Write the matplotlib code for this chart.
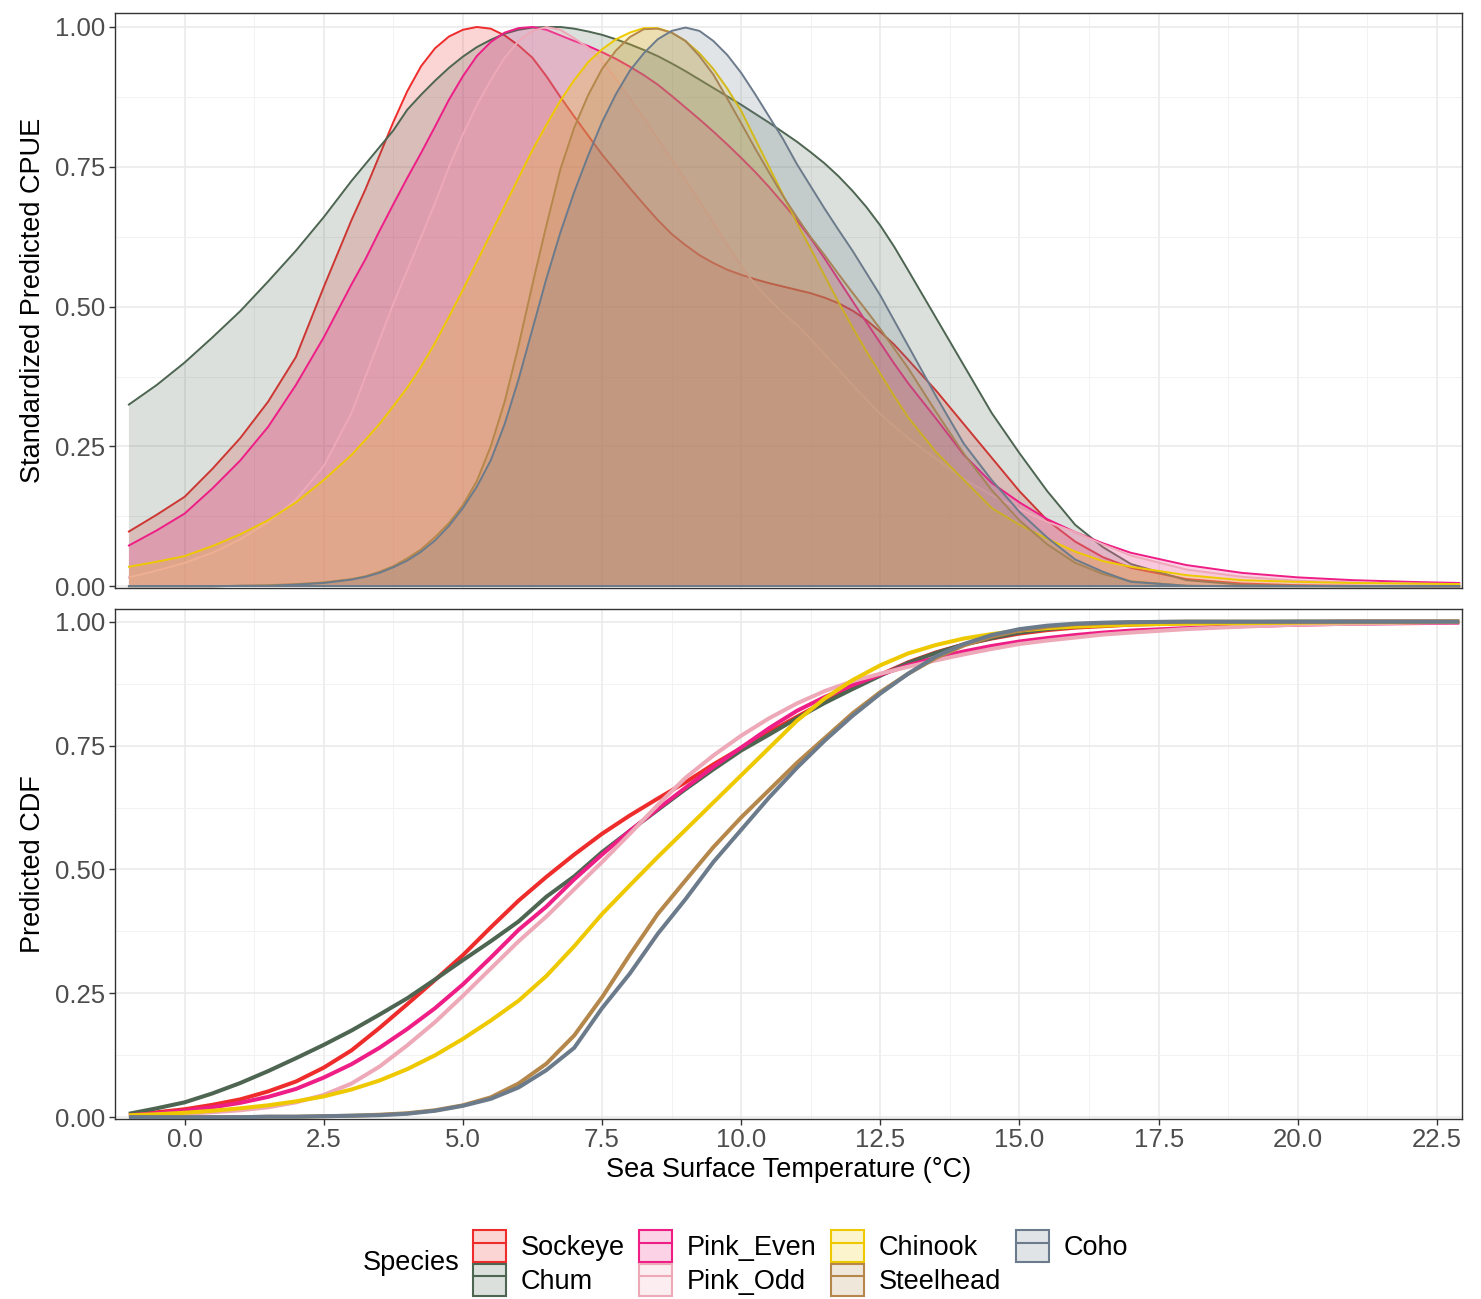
#!/usr/bin/env python
# -*- coding: utf-8 -*-
"""
Thermal response curves per salmon species:
standardized predicted CPUE (top) and predicted CDF (bottom) vs SST
"""

import matplotlib
matplotlib.use("Agg")
import matplotlib.pyplot as plt
from matplotlib.patches import Patch
from matplotlib.lines import Line2D
from matplotlib.colors import to_rgba
from matplotlib.ticker import MultipleLocator, FormatStrFormatter

plt.rcParams['font.family'] = ['Liberation Sans', 'DejaVu Sans']

species = ['Sockeye', 'Chum', 'Pink_Even', 'Pink_Odd', 'Chinook', 'Steelhead', 'Coho']
colors = ['#EE2C2C', '#4D6551', '#EE1E86', '#EEA9B8', '#EEC900', '#B5874B', '#6C7B8B']

# SST grid for the CPUE curves (°C), finer around the peaks
sst_cpue = [-1.0, -0.5, 0.0, 0.5, 1.0, 1.5, 2.0, 2.5, 3.0,
            3.25, 3.5, 3.75, 4.0, 4.25, 4.5, 4.75, 5.0,
            5.25, 5.5, 5.75, 6.0, 6.25, 6.5, 6.75, 7.0,
            7.25, 7.5, 7.75, 8.0, 8.25, 8.5, 8.75, 9.0,
            9.25, 9.5, 9.75, 10.0, 10.25, 10.5, 10.75, 11.0,
            11.25, 11.5, 11.75, 12.0, 12.25, 12.5, 12.75, 13.0,
            13.5, 14.0, 14.5, 15.0, 15.5, 16.0, 16.5, 17.0,
            18.0, 19.0, 20.0, 21.0, 22.0, 22.9]

# standardized predicted CPUE
cpue_sockeye = [0.098, 0.128, 0.160, 0.210, 0.265, 0.330, 0.410, 0.535, 0.655,
                0.710, 0.770, 0.830, 0.885, 0.930, 0.962, 0.983, 0.995,
                1.000, 0.997, 0.985, 0.967, 0.945, 0.912, 0.875, 0.840,
                0.806, 0.772, 0.742, 0.712, 0.683, 0.655, 0.630, 0.610,
                0.592, 0.578, 0.566, 0.557, 0.549, 0.542, 0.536, 0.530,
                0.524, 0.516, 0.506, 0.493, 0.476, 0.455, 0.432, 0.405,
                0.350, 0.290, 0.230, 0.170, 0.118, 0.080, 0.052, 0.033,
                0.013, 0.005, 0.002, 0.001, 0.000, 0.000]
cpue_chum = [0.325, 0.360, 0.400, 0.445, 0.492, 0.545, 0.600, 0.660, 0.725,
             0.755, 0.785, 0.815, 0.852, 0.879, 0.904, 0.927, 0.947,
             0.964, 0.977, 0.988, 0.995, 0.999, 1.000, 1.000, 0.997,
             0.992, 0.986, 0.978, 0.969, 0.959, 0.948, 0.935, 0.921,
             0.906, 0.891, 0.876, 0.861, 0.845, 0.829, 0.812, 0.795,
             0.776, 0.756, 0.733, 0.707, 0.678, 0.645, 0.607, 0.565,
             0.480, 0.395, 0.310, 0.238, 0.170, 0.110, 0.070, 0.040,
             0.011, 0.003, 0.001, 0.000, 0.000, 0.000]
cpue_pink_even = [0.073, 0.100, 0.130, 0.175, 0.225, 0.285, 0.360, 0.445, 0.540,
                  0.585, 0.635, 0.683, 0.730, 0.775, 0.822, 0.870, 0.912,
                  0.948, 0.973, 0.990, 0.998, 1.000, 0.995, 0.985, 0.975,
                  0.966, 0.955, 0.943, 0.929, 0.914, 0.897, 0.877, 0.856,
                  0.835, 0.813, 0.790, 0.766, 0.741, 0.714, 0.685, 0.655,
                  0.622, 0.586, 0.548, 0.510, 0.472, 0.435, 0.398, 0.363,
                  0.300, 0.235, 0.185, 0.150, 0.120, 0.097, 0.077, 0.060,
                  0.038, 0.024, 0.016, 0.011, 0.008, 0.006]
cpue_pink_odd = [0.016, 0.028, 0.042, 0.060, 0.084, 0.115, 0.155, 0.215, 0.310,
                 0.375, 0.440, 0.505, 0.565, 0.625, 0.685, 0.750, 0.808,
                 0.860, 0.905, 0.945, 0.975, 0.993, 1.000, 0.995, 0.980,
                 0.963, 0.940, 0.907, 0.872, 0.837, 0.800, 0.763, 0.726,
                 0.688, 0.650, 0.610, 0.572, 0.540, 0.513, 0.489, 0.467,
                 0.442, 0.415, 0.388, 0.360, 0.334, 0.308, 0.286, 0.265,
                 0.228, 0.192, 0.163, 0.138, 0.115, 0.097, 0.075, 0.055,
                 0.030, 0.017, 0.010, 0.007, 0.005, 0.004]
cpue_chinook = [0.035, 0.044, 0.054, 0.072, 0.093, 0.118, 0.150, 0.190, 0.235,
                0.262, 0.290, 0.322, 0.355, 0.393, 0.435, 0.482, 0.530,
                0.580, 0.630, 0.680, 0.730, 0.780, 0.825, 0.868, 0.905,
                0.937, 0.960, 0.978, 0.990, 0.998, 0.998, 0.990, 0.975,
                0.953, 0.925, 0.890, 0.850, 0.800, 0.750, 0.700, 0.650,
                0.603, 0.555, 0.508, 0.463, 0.420, 0.380, 0.340, 0.302,
                0.240, 0.190, 0.140, 0.110, 0.085, 0.062, 0.045, 0.035,
                0.020, 0.011, 0.008, 0.006, 0.005, 0.004]
cpue_steelhead = [0.000, 0.000, 0.000, 0.000, 0.001, 0.002, 0.004, 0.007, 0.013,
                  0.018, 0.026, 0.036, 0.050, 0.066, 0.088, 0.113, 0.145,
                  0.188, 0.250, 0.330, 0.430, 0.540, 0.645, 0.745, 0.820,
                  0.878, 0.925, 0.958, 0.982, 0.996, 0.997, 0.990, 0.975,
                  0.948, 0.915, 0.872, 0.828, 0.783, 0.740, 0.698, 0.660,
                  0.624, 0.592, 0.558, 0.525, 0.493, 0.460, 0.425, 0.390,
                  0.312, 0.237, 0.172, 0.118, 0.075, 0.042, 0.022, 0.009,
                  0.001, 0.000, 0.000, 0.000, 0.000, 0.000]
cpue_coho = [0.000, 0.000, 0.000, 0.000, 0.001, 0.001, 0.003, 0.006, 0.012,
             0.017, 0.024, 0.034, 0.046, 0.062, 0.082, 0.108, 0.140,
             0.178, 0.225, 0.290, 0.370, 0.460, 0.550, 0.632, 0.705,
             0.770, 0.830, 0.880, 0.922, 0.953, 0.978, 0.993, 0.999,
             0.993, 0.975, 0.950, 0.918, 0.880, 0.840, 0.800, 0.755,
             0.715, 0.675, 0.637, 0.600, 0.560, 0.520, 0.475, 0.430,
             0.340, 0.255, 0.190, 0.133, 0.087, 0.048, 0.026, 0.008,
             0.001, 0.000, 0.000, 0.000, 0.000, 0.000]

# SST grid for the CDF curves (°C)
sst_cdf = [-1.0, -0.5, 0.0, 0.5, 1.0, 1.5, 2.0, 2.5, 3.0, 3.5,
           4.0, 4.5, 5.0, 5.5, 6.0, 6.5, 7.0, 7.5, 8.0, 8.5,
           9.0, 9.5, 10.0, 10.5, 11.0, 11.5, 12.0, 12.5, 13.0, 13.5,
           14.0, 14.5, 15.0, 15.5, 16.0, 16.5, 17.0, 18.0, 19.0, 20.0,
           21.0, 22.0, 22.9]

# predicted CDF
cdf_sockeye = [0.005, 0.010, 0.016, 0.025, 0.036, 0.052, 0.072, 0.100, 0.135, 0.180,
               0.228, 0.277, 0.327, 0.383, 0.437, 0.485, 0.530, 0.572, 0.609, 0.643,
               0.676, 0.712, 0.745, 0.777, 0.808, 0.838, 0.866, 0.893, 0.918, 0.938,
               0.954, 0.966, 0.976, 0.983, 0.988, 0.991, 0.994, 0.997, 0.998, 0.999,
               1.000, 1.000, 1.000]
cdf_chum = [0.007, 0.018, 0.030, 0.048, 0.069, 0.093, 0.119, 0.146, 0.175, 0.207,
            0.240, 0.278, 0.317, 0.355, 0.395, 0.445, 0.486, 0.535, 0.578, 0.620,
            0.662, 0.702, 0.740, 0.772, 0.805, 0.836, 0.864, 0.891, 0.917, 0.937,
            0.954, 0.967, 0.978, 0.985, 0.990, 0.994, 0.996, 0.998, 0.999, 1.000,
            1.000, 1.000, 1.000]
cdf_pink_even = [0.004, 0.008, 0.013, 0.020, 0.029, 0.041, 0.057, 0.080, 0.107, 0.140,
                 0.178, 0.220, 0.268, 0.322, 0.378, 0.425, 0.480, 0.530, 0.578, 0.622,
                 0.665, 0.707, 0.746, 0.785, 0.820, 0.848, 0.872, 0.893, 0.912, 0.927,
                 0.940, 0.951, 0.960, 0.967, 0.973, 0.978, 0.982, 0.987, 0.991, 0.994,
                 0.996, 0.997, 0.998]
cdf_pink_odd = [0.002, 0.004, 0.007, 0.010, 0.014, 0.020, 0.030, 0.045, 0.068, 0.102,
                0.145, 0.192, 0.245, 0.300, 0.355, 0.405, 0.460, 0.515, 0.572, 0.630,
                0.685, 0.730, 0.770, 0.805, 0.835, 0.860, 0.880, 0.895, 0.909, 0.922,
                0.934, 0.945, 0.955, 0.962, 0.968, 0.974, 0.978, 0.985, 0.990, 0.994,
                0.996, 0.998, 0.999]
cdf_chinook = [0.004, 0.006, 0.009, 0.013, 0.018, 0.024, 0.032, 0.042, 0.056, 0.074,
               0.097, 0.125, 0.158, 0.195, 0.235, 0.285, 0.345, 0.410, 0.468, 0.525,
               0.580, 0.635, 0.690, 0.745, 0.800, 0.845, 0.882, 0.912, 0.936, 0.953,
               0.966, 0.975, 0.982, 0.987, 0.990, 0.992, 0.994, 0.996, 0.997, 0.998,
               0.999, 0.999, 1.000]
cdf_steelhead = [0.000, 0.000, 0.000, 0.000, 0.000, 0.001, 0.001, 0.002, 0.003, 0.005,
                 0.008, 0.014, 0.024, 0.040, 0.068, 0.108, 0.165, 0.242, 0.328, 0.410,
                 0.478, 0.545, 0.605, 0.660, 0.715, 0.765, 0.815, 0.858, 0.895, 0.927,
                 0.952, 0.970, 0.982, 0.990, 0.995, 0.997, 0.999, 1.000, 1.000, 1.000,
                 1.000, 1.000, 1.000]
cdf_coho = [0.000, 0.000, 0.000, 0.000, 0.000, 0.001, 0.001, 0.002, 0.003, 0.004,
            0.007, 0.013, 0.023, 0.037, 0.060, 0.095, 0.140, 0.220, 0.290, 0.370,
            0.440, 0.515, 0.580, 0.645, 0.705, 0.760, 0.810, 0.855, 0.895, 0.930,
            0.955, 0.973, 0.985, 0.992, 0.996, 0.998, 0.999, 1.000, 1.000, 1.000,
            1.000, 1.000, 1.000]

cpue_all = [cpue_sockeye, cpue_chum, cpue_pink_even, cpue_pink_odd,
            cpue_chinook, cpue_steelhead, cpue_coho]
cdf_all = [cdf_sockeye, cdf_chum, cdf_pink_even, cdf_pink_odd,
           cdf_chinook, cdf_steelhead, cdf_coho]

W, H = 1481, 1299


def style_panel(ax, show_x):
    """theme_bw-like panel"""
    ax.set_xlim(-1.25, 22.95)
    ax.set_ylim(-0.003, 1.025)
    ax.xaxis.set_major_locator(MultipleLocator(2.5))
    ax.xaxis.set_minor_locator(MultipleLocator(1.25))
    ax.yaxis.set_major_locator(MultipleLocator(0.25))
    ax.yaxis.set_minor_locator(MultipleLocator(0.125))
    ax.xaxis.set_major_formatter(FormatStrFormatter('%.1f'))
    ax.yaxis.set_major_formatter(FormatStrFormatter('%.2f'))
    ax.grid(which='minor', color='#F0F0F0', lw=0.6)
    ax.grid(which='major', color='#EBEBEB', lw=1.2)
    ax.set_axisbelow(True)
    ax.tick_params(which='minor', length=0)
    ax.tick_params(which='major', length=4.5, width=1.0, color='#333333',
                   labelsize=18.5, labelcolor='#4D4D4D', pad=2.5)
    for s in ax.spines.values():
        s.set_color('#333333')
        s.set_linewidth(1.0)
    if not show_x:
        ax.tick_params(axis='x', which='both', bottom=False, labelbottom=False)


def plot_thermal_curves():
    fig = plt.figure(figsize=(W / 100, H / 100), dpi=100)

    left, right = 115 / W, 1462 / W
    ax1 = fig.add_axes([left, 1 - 588 / H, right - left, (588 - 13) / H])
    ax2 = fig.add_axes([left, 1 - 1118.7 / H, right - left, (1118.7 - 609.3) / H])

    zeros = [0.0] * len(sst_cpue)

    # top: each species drawn as fill + outline in turn, later ones cover earlier ones
    for i, (c, y) in enumerate(zip(colors, cpue_all)):
        z = 2 + 2 * i
        ax1.fill_between(sst_cpue, zeros, y, facecolor=c, alpha=0.2, lw=0, zorder=z)
        ax1.plot(sst_cpue, y, color=c, lw=1.4, zorder=z + 1)
        ax1.plot(sst_cpue, zeros, color=c, lw=1.4, zorder=z + 1)
    style_panel(ax1, show_x=False)

    # bottom: cumulative curves
    for i, (c, y) in enumerate(zip(colors, cdf_all)):
        ax2.plot(sst_cdf, y, color=c, lw=2.9, zorder=3 + i, solid_capstyle='butt')
    style_panel(ax2, show_x=True)

    fig.text(33 / W, 1 - 300.5 / H, 'Standardized Predicted CPUE', rotation=90,
             ha='center', va='center', fontsize=19.5)
    fig.text(33 / W, 1 - 864 / H, 'Predicted CDF', rotation=90,
             ha='center', va='center', fontsize=19.5)
    fig.text(788.5 / W, 1 - 1170 / H, 'Sea Surface Temperature (°C)',
             ha='center', va='center', fontsize=19.5)

    # legend keys: translucent square with the line through it
    handles = [(Patch(facecolor=to_rgba(c, 0.2), edgecolor=c, lw=1.5),
                Line2D([], [], color=c, lw=1.5)) for c in colors]
    fig.text(363 / W, 1 - 1263 / H, 'Species', ha='left', va='center', fontsize=19.5)
    fig.legend(handles, species, ncol=4, loc='center left',
               bbox_to_anchor=(473 / W, 1 - 1263 / H), frameon=False,
               fontsize=19.5, handlelength=1.2, handleheight=1.45,
               handletextpad=0.55, columnspacing=0.55, labelspacing=0.05,
               borderpad=0, borderaxespad=0)

    fig.savefig('out.png', dpi=100)
    print("saved out.png")


if __name__ == "__main__":
    plot_thermal_curves()
